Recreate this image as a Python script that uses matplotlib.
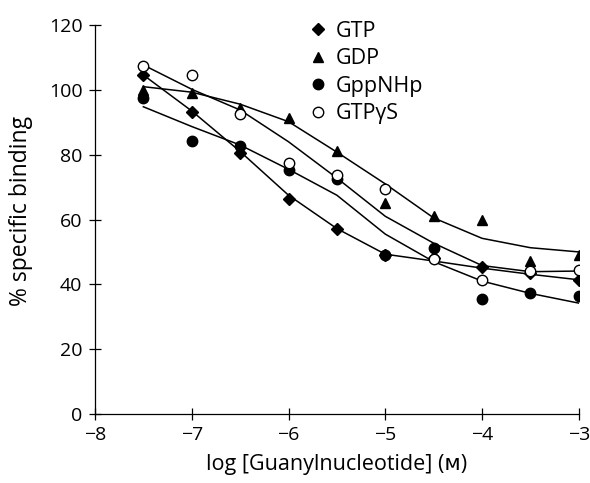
import matplotlib
matplotlib.use("Agg")
import matplotlib.pyplot as plt

plt.rcParams['font.family'] = ['Open Sans', 'DejaVu Sans']

# log concentration
conc = [-7.5, -7.0, -6.5, -6.0, -5.5, -5.0, -4.5, -4.0, -3.5, -3.0]

# measured points (% specific binding)
gtp = [104.5, 93.3, 80.5, 66.3, 57.2, 49.0, 48.0, 45.2, 43.4, 41.2]
gdp = [100.0, 99.2, 94.5, 91.3, 81.0, 65.0, 61.0, 60.0, 47.3, 48.9]
gppnhp = [97.4, 84.3, 82.8, 75.3, 72.4, 49.2, 51.2, 35.6, 37.4, 36.4]
gtpgs = [107.4, 104.6, 92.6, 77.4, 73.6, 69.4, 47.7, 41.4, 44.1, 44.3]

# fitted curves
gtp_fit = [104.6, 93.5, 81.0, 67.5, 57.2, 49.3, 47.2, 45.0, 43.1, 41.4]
gdp_fit = [101.0, 99.3, 95.6, 90.2, 80.8, 71.0, 60.5, 54.2, 51.3, 50.0]
gppnhp_fit = [94.8, 88.7, 83.0, 75.5, 67.5, 55.5, 47.0, 41.0, 37.2, 34.2]
gtpgs_fit = [107.7, 100.2, 93.8, 84.0, 72.8, 61.0, 52.7, 45.8, 43.9, 44.1]

fig = plt.figure(figsize=(5.9, 4.83), dpi=100)
ax = fig.add_axes([0.161, 0.143, 0.82, 0.805])

for fit in [gtp_fit, gdp_fit, gppnhp_fit, gtpgs_fit]:
    ax.plot(conc, fit, color='black', lw=1.1, zorder=2)

ax.plot(conc, gtp, 'D', color='black', ms=6, ls='none', label='GTP', zorder=3)
ax.plot(conc, gdp, '^', color='black', ms=7.5, ls='none', label='GDP', zorder=3)
ax.plot(conc, gppnhp, 'o', color='black', ms=7.5, ls='none', label='GppNHp', zorder=3)
ax.plot(conc, gtpgs, 'o', mfc='white', mec='black', mew=1.0, ms=7.5, ls='none',
        label='GTP\u03b3S', zorder=3)

ax.set_xlim(-8, -3)
ax.set_ylim(0, 120)
ax.set_xticks([-8, -7, -6, -5, -4, -3])
ax.set_xticklabels(['\u22128', '\u22127', '\u22126', '\u22125', '\u22124', '\u22123'])
ax.set_yticks([0, 20, 40, 60, 80, 100, 120])
ax.tick_params(direction='inout', length=8, width=0.9, labelsize=14, pad=5)
for s in ['top', 'right']:
    ax.spines[s].set_visible(False)
for s in ['left', 'bottom']:
    ax.spines[s].set_linewidth(0.9)

ax.set_xlabel('log [Guanylnucleotide] (\u1d0d)', fontsize=15.5, labelpad=7)
ax.set_ylabel('% specific binding', fontsize=16.5)
ax.yaxis.set_label_coords(-0.128, 0.522)

ax.legend(loc='upper left', bbox_to_anchor=(0.415, 1.05), frameon=False,
          fontsize=15.5, handlelength=0.7, handletextpad=0.45, labelspacing=0.3,
          borderpad=0.2)

fig.savefig('out.png', dpi=100)
